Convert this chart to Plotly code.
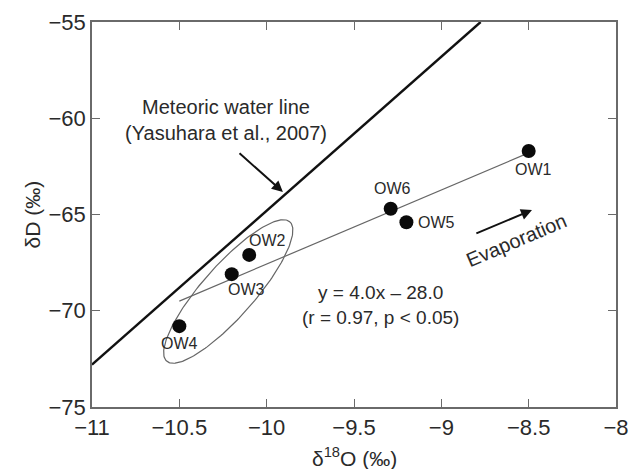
import numpy as np
import plotly.graph_objects as go

# ---- data ----
sample_names = ["OW1", "OW2", "OW3", "OW4", "OW5", "OW6"]
d18O = [-8.50, -10.10, -10.20, -10.50, -9.20, -9.29]
dD = [-61.7, -67.1, -68.1, -70.8, -65.4, -64.7]

# regression line endpoints (as drawn)
reg_x = [-10.50, -8.50]
reg_y = [-69.5, -61.8]

# meteoric water line endpoints (as drawn)
mwl_x = [-11.0, -8.775]
mwl_y = [-72.8, -55.0]

x_ticks = [-11, -10.5, -10, -9.5, -9, -8.5, -8]
x_tick_labels = ["\u221211", "\u221210.5", "\u221210", "\u22129.5", "\u22129", "\u22128.5", "\u22128"]
y_ticks = [-75, -70, -65, -60, -55]
y_tick_labels = ["\u221275", "\u221270", "\u221265", "\u221260", "\u221255"]

# ---- layout constants (page body has an 8px margin) ----
W, H = 630, 461
ML, MR, MT, MB = 84, 22, 14, 62
XR = [-11, -8]
YR = [-75, -55]
px_per_x = (W - ML - MR) / (XR[1] - XR[0])
px_per_y = (H - MT - MB) / (YR[1] - YR[0])

FONT = "Liberation Sans, Arial, sans-serif"
TXT = "#2a2a2a"
AX = "#6a6a6a"

fig = go.Figure()

# meteoric water line
fig.add_trace(go.Scatter(x=mwl_x, y=mwl_y, mode="lines",
                         line=dict(color="#111111", width=2.4), hoverinfo="skip"))
# regression line
fig.add_trace(go.Scatter(x=reg_x, y=reg_y, mode="lines",
                         line=dict(color="#666666", width=1.2), hoverinfo="skip"))

# ellipse (drawn in screen-proportional units)
ec_x, ec_y = -10.22, -69.0
ea, eb, eang = 93, 26, np.deg2rad(48.5)
t = np.linspace(0, 2 * np.pi, 200)
px = ea * np.cos(t) * np.cos(eang) - eb * np.sin(t) * np.sin(eang)
py = ea * np.cos(t) * np.sin(eang) + eb * np.sin(t) * np.cos(eang)
fig.add_trace(go.Scatter(x=ec_x + px / px_per_x, y=ec_y + py / px_per_y, mode="lines",
                         line=dict(color="#666666", width=1.2), hoverinfo="skip"))

# points
fig.add_trace(go.Scatter(x=d18O, y=dD, mode="markers",
                         marker=dict(color="#0a0a0a", size=14), hoverinfo="skip"))

# point labels
label_shift = {"OW1": (5, -19), "OW2": (18, 14), "OW3": (15, -15),
               "OW4": (0, -17), "OW5": (30, 0), "OW6": (2, 20)}
for n, xv, yv in zip(sample_names, d18O, dD):
    sx, sy = label_shift[n]
    fig.add_annotation(x=xv, y=yv, text=n, showarrow=False, xshift=sx, yshift=sy,
                       font=dict(family=FONT, size=16, color=TXT))

# meteoric water line text + arrow
fig.add_annotation(x=-10.23, y=-60.09, text="Meteoric water line<br>(Yasuhara et al., 2007)",
                   showarrow=False, font=dict(family=FONT, size=20, color=TXT))
fig.add_annotation(x=-9.907, y=-63.83, ax=-10.164, ay=-61.75, axref="x", ayref="y",
                   showarrow=True, arrowhead=2, arrowsize=1.1, arrowwidth=2,
                   arrowcolor="#111111", text="")

# evaporation arrow + text
fig.add_annotation(x=-8.481, y=-64.77, ax=-8.808, ay=-66.01, axref="x", ayref="y",
                   showarrow=True, arrowhead=2, arrowsize=1.1, arrowwidth=2,
                   arrowcolor="#111111", text="")
fig.add_annotation(x=-8.567, y=-66.32, text="Evaporation", textangle=-23, showarrow=False,
                   font=dict(family=FONT, size=20, color=TXT))

# equation
fig.add_annotation(x=-9.351, y=-69.70, text="y = 4.0x \u2013 28.0<br>(r = 0.97, p < 0.05)",
                   showarrow=False, font=dict(family=FONT, size=19, color=TXT))

# axis titles
fig.add_annotation(xref="paper", yref="paper", x=0.5, y=0, yshift=-50, yanchor="middle",
                   xanchor="center", text="\u03b4<sup>18</sup>O (\u2030)",
                   showarrow=False, font=dict(family=FONT, size=21, color=TXT))
fig.add_annotation(xref="paper", yref="paper", x=0, y=0.5, xshift=-60, xanchor="center",
                   yanchor="middle", text="\u03b4D (\u2030)",
                   textangle=-90, showarrow=False, font=dict(family=FONT, size=21, color=TXT))

axis_common = dict(showgrid=False, zeroline=False, showline=True, linecolor=AX, linewidth=1.5,
                   mirror="ticks", ticks="inside", ticklen=8, tickwidth=1.2, tickcolor=AX,
                   automargin=False,
                   tickfont=dict(family=FONT, size=22, color=TXT))

fig.update_layout(
    width=W, height=H,
    margin=dict(l=ML, r=MR, t=MT, b=MB),
    paper_bgcolor="white", plot_bgcolor="white",
    showlegend=False,
    xaxis=dict(range=XR, tickvals=x_ticks, ticktext=x_tick_labels, **axis_common),
    yaxis=dict(range=YR, tickvals=y_ticks, ticktext=y_tick_labels, **axis_common),
)

fig.write_html("out.html")
